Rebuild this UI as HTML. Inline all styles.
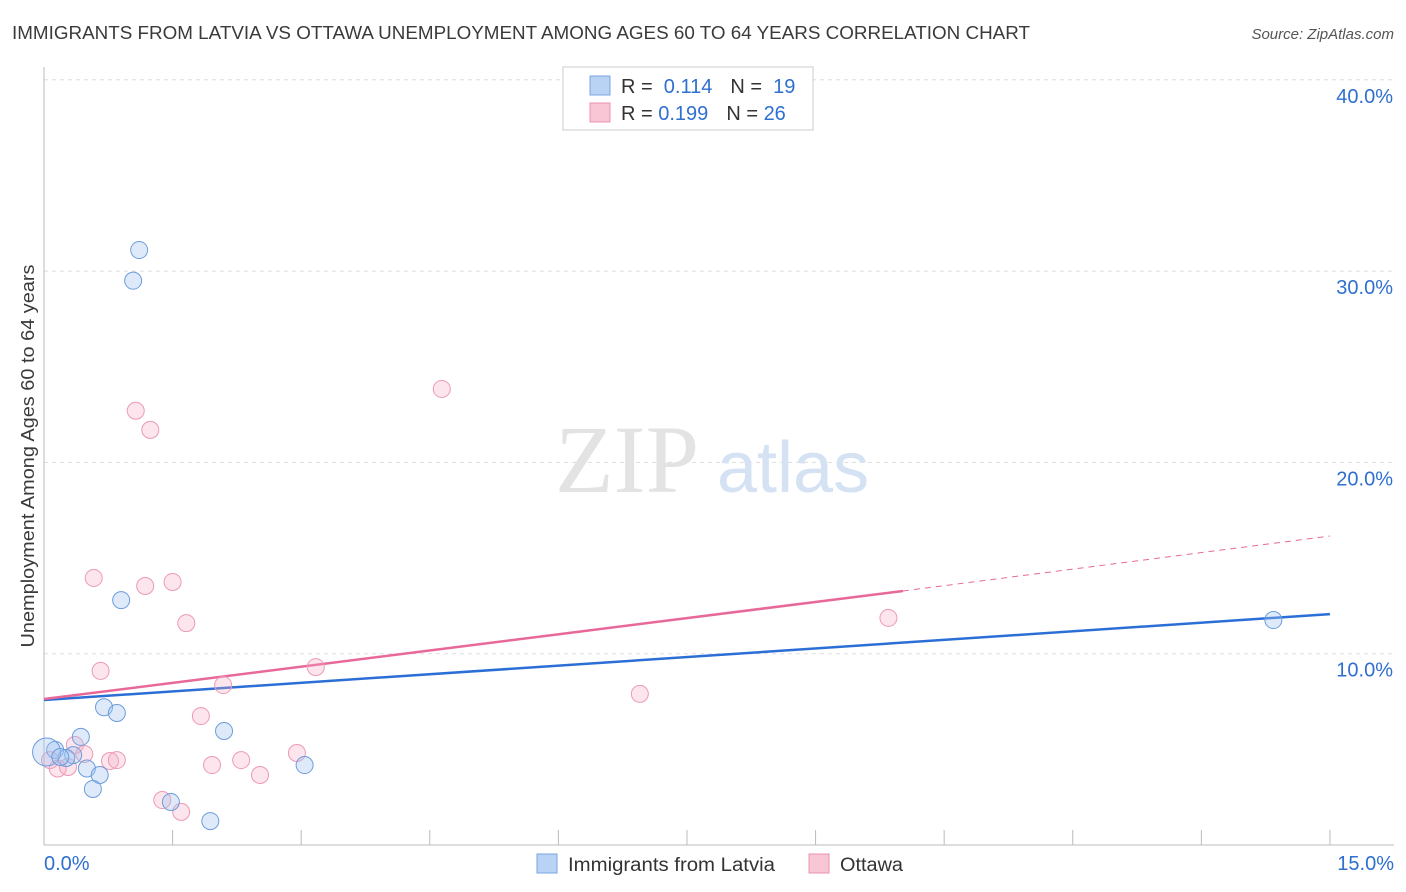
<!DOCTYPE html>
<html><head><meta charset="utf-8"><style>
body{margin:0;background:#fff;font-family:"Liberation Sans",sans-serif;}
svg{display:block}
</style></head><body>
<svg id="c" width="1406" height="892" xmlns="http://www.w3.org/2000/svg">
<text x="12" y="39" font-size="18" fill="#3a3a3a" textLength="1018" lengthAdjust="spacingAndGlyphs">IMMIGRANTS FROM LATVIA VS OTTAWA UNEMPLOYMENT AMONG AGES 60 TO 64 YEARS CORRELATION CHART</text>
<text x="1394" y="39" font-size="15" fill="#555" font-style="italic" text-anchor="end">Source: ZipAtlas.com</text>
<g id="grid"></g>
<text x="555" y="492" font-size="96" fill="#e3e3e3" font-family="Liberation Serif,serif">ZIP</text>
<text x="717" y="492" font-size="72" fill="#d4e2f4">atlas</text>
<g id="axes"></g>
<g id="lines"></g>
<g id="pts"></g>
<text x="34" y="456" font-size="18" fill="#3a3a3a" text-anchor="middle" textLength="383" lengthAdjust="spacingAndGlyphs" transform="rotate(-90 34 456)">Unemployment Among Ages 60 to 64 years</text>
<g>
<rect x="563" y="67" width="250" height="63" fill="#fff" stroke="#ccc"/>
<rect x="590" y="76" width="20" height="19" fill="#b9d3f5" stroke="#7aa6e0"/>
<rect x="590" y="103" width="20" height="19" fill="#f9c6d5" stroke="#ec93ae"/>
<text x="621" y="93" font-size="20" fill="#333">R = <tspan fill="#2f6fcf">&#160;0.114</tspan><tspan dx="18">N = </tspan><tspan fill="#2f6fcf">&#160;19</tspan></text>
<text x="621" y="120" font-size="20" fill="#333">R = <tspan fill="#2f6fcf">0.199</tspan><tspan dx="18">N = </tspan><tspan fill="#2f6fcf">26</tspan></text>
</g>
<g>
<rect x="537" y="854" width="20" height="19" fill="#b9d3f5" stroke="#7aa6e0"/>
<text x="568" y="871" font-size="19" fill="#333" textLength="207" lengthAdjust="spacingAndGlyphs">Immigrants from Latvia</text>
<rect x="809" y="854" width="20" height="19" fill="#f9c6d5" stroke="#ec93ae"/>
<text x="840" y="871" font-size="19" fill="#333" textLength="63" lengthAdjust="spacingAndGlyphs">Ottawa</text>
</g>
</svg>
<script>
const blueX=[1.11,1.04,0.90,0.70,0.85,0.43,2.10,0.13,0.34,0.26,0.50,0.65,3.04,0.57,1.48,1.94,14.34,0.03,0.19];
const blueY=[31.1,29.5,12.8,7.2,6.9,5.65,5.96,4.97,4.7,4.55,4.0,3.66,4.18,2.93,2.25,1.25,11.76,4.86,4.6];
const blueR=[8.5,8.5,8.5,8.5,8.5,8.5,8.5,8.5,8.5,8.5,8.5,8.5,8.5,8.5,8.5,8.5,8.5,14,8.5];
const pinkX=[4.64,1.07,1.24,0.58,1.18,1.50,1.66,9.85,0.66,3.17,2.09,6.95,1.83,0.36,0.47,0.77,0.85,2.30,2.95,1.96,2.52,0.16,0.28,1.38,1.60,0.07];
const pinkY=[23.84,22.7,21.7,13.96,13.54,13.75,11.6,11.87,9.1,9.3,8.36,7.9,6.74,5.23,4.76,4.39,4.44,4.44,4.81,4.18,3.66,4.0,4.08,2.35,1.73,4.44];
const blueTrend=[0,7.58,15,12.07];
const pinkTrend=[0,7.63,10.02,13.28,15,16.15];
const yTicks=[10,20,30,40];
const xTickLabels=["0.0%","15.0%"];
const NS="http://www.w3.org/2000/svg";
const sx=v=>44+v*85.73, sy=v=>845-v*19.13;
function mk(tag,at,parent){const e=document.createElementNS(NS,tag);for(const k in at)e.setAttribute(k,at[k]);document.getElementById(parent).appendChild(e);return e;}
yTicks.forEach(t=>{
 const l=mk('line',{x1:44,x2:1394,y1:sy(t),y2:sy(t),stroke:'#ddd','stroke-dasharray':'4 4'},'grid');
 
 
 const tx=mk('text',{x:1393,y:sy(t)+23,'font-size':20,fill:'#2f6fcf','text-anchor':'end'},'grid');
 tx.textContent=t.toFixed(1)+'%';
 
 
});
mk('line',{x1:44,x2:44,y1:67,y2:845,stroke:'#bbb'},'axes');
mk('line',{x1:44,x2:1394,y1:845,y2:845,stroke:'#bbb'},'axes');
for(let i=0;i<=10;i++){const t=mk('line',{x1:sx(i*1.5),x2:sx(i*1.5),y1:830,y2:845,stroke:'#bbb'},'axes');
 
 }
let a=mk('text',{x:44,y:870,'font-size':20,fill:'#2f6fcf'},'axes');a.textContent=xTickLabels[0];


a=mk('text',{x:1394,y:870,'font-size':20,fill:'#2f6fcf','text-anchor':'end'},'axes');a.textContent=xTickLabels[1];


let bl=mk('line',{x1:sx(blueTrend[0]),y1:sy(blueTrend[1]),x2:sx(blueTrend[2]),y2:sy(blueTrend[3]),stroke:'#2b6fd6','stroke-width':2.5},'lines');


let pl=mk('line',{x1:sx(pinkTrend[0]),y1:sy(pinkTrend[1]),x2:sx(pinkTrend[2]),y2:sy(pinkTrend[3]),stroke:'#e8689a','stroke-width':2.5},'lines');


let pd=mk('line',{x1:sx(pinkTrend[2]),y1:sy(pinkTrend[3]),x2:sx(pinkTrend[4]),y2:sy(pinkTrend[5]),stroke:'#e8689a','stroke-width':1,'stroke-dasharray':'6 5'},'lines');


pinkX.forEach((x,i)=>{const c=mk('circle',{cx:sx(x),cy:sy(pinkY[i]),r:8.5,fill:'rgba(246,170,195,0.3)',stroke:'#ec9ab4','stroke-width':1},'pts');
 
 });
blueX.forEach((x,i)=>{const c=mk('circle',{cx:sx(x),cy:sy(blueY[i]),r:blueR[i],fill:'rgba(160,195,240,0.35)',stroke:'#6d9ddc','stroke-width':1},'pts');
 
 });
</script>
</body></html>
